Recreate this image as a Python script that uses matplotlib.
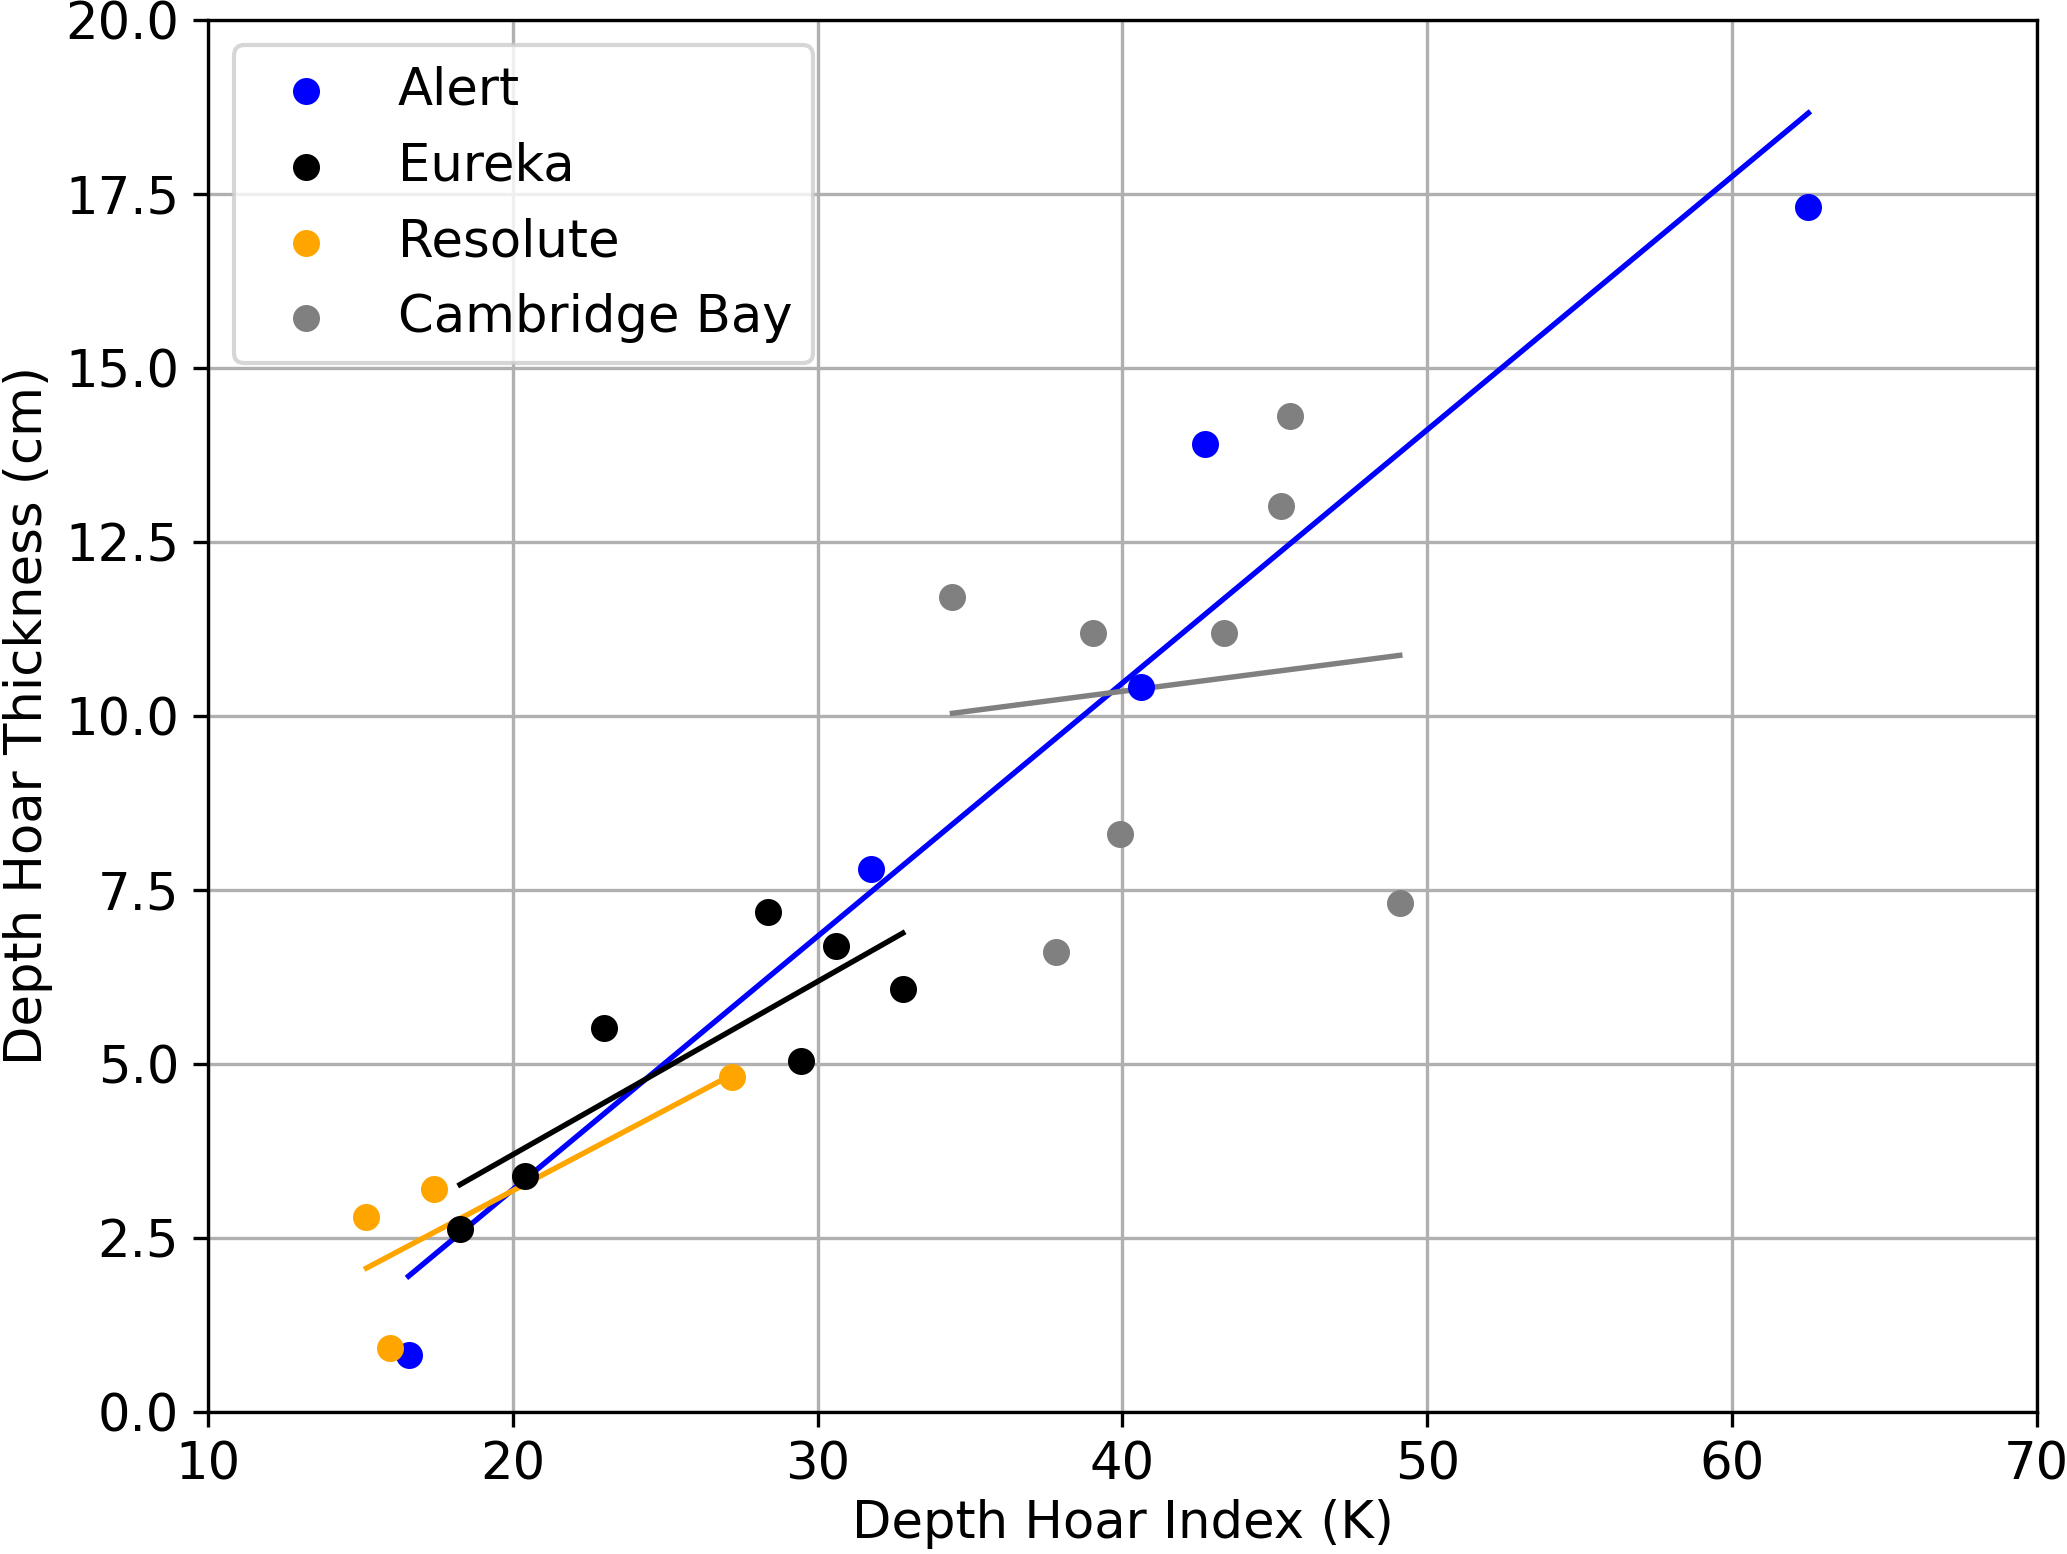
import numpy as np
import matplotlib
matplotlib.use('Agg')
import matplotlib.pyplot as plt

# station data
alert_x = [16.57, 31.76, 40.62, 42.71, 62.51]
alert_y = [0.81, 7.80, 10.41, 13.90, 17.31]

eureka_x = [18.26, 20.38, 22.98, 28.38, 29.46, 30.59, 32.79]
eureka_y = [2.63, 3.39, 5.51, 7.18, 5.04, 6.69, 6.08]

resolute_x = [15.19, 15.97, 17.40, 27.17]
resolute_y = [2.80, 0.91, 3.20, 4.81]

cambridge_x = [34.42, 39.02, 43.32, 45.20, 45.50, 39.93, 49.10, 37.82]
cambridge_y = [11.70, 11.19, 11.19, 13.01, 14.31, 8.30, 7.31, 6.61]

stations = ['Alert', 'Eureka', 'Resolute', 'Cambridge Bay']
colors = ['blue', 'black', 'orange', 'gray']
xs = [alert_x, eureka_x, resolute_x, cambridge_x]
ys = [alert_y, eureka_y, resolute_y, cambridge_y]

plt.rcParams['font.size'] = 12.3

fig = plt.figure(figsize=(2067 / 300, 1554 / 300), dpi=300)
ax = fig.add_subplot(1, 1, 1)
fig.subplots_adjust(left=0.1008, right=0.9853, top=0.9873, bottom=0.0916)

for name, c, x, y in zip(stations, colors, xs, ys):
    x = np.array(x)
    y = np.array(y)
    ax.scatter(x, y, color=c, s=30, label=name, zorder=3)
    p = np.polyfit(x, y, 1)
    xl = np.array([x.min(), x.max()])
    ax.plot(xl, np.polyval(p, xl), color=c, lw=1.3, zorder=2)

ax.set_xlim(10, 70)
ax.set_ylim(0, 20)
ax.set_yticks(np.arange(0, 20.1, 2.5))
ax.grid(True)
ax.set_axisbelow(True)
ax.set_xlabel('Depth Hoar Index (K)', labelpad=2)
ax.set_ylabel('Depth Hoar Thickness (cm)', labelpad=3)
ax.legend(loc='upper left')

fig.savefig('out.png', dpi=300)
